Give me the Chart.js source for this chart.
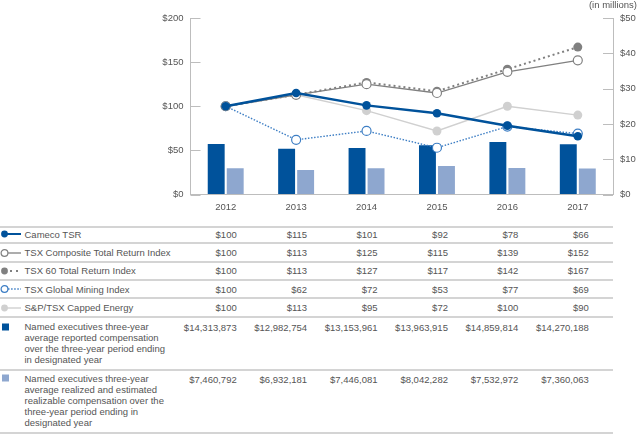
<!DOCTYPE html>
<html><head><meta charset="utf-8">
<script src="https://cdn.jsdelivr.net/npm/chart.js@4.4.0/dist/chart.umd.min.js"></script>
<style>
html,body{margin:0;padding:0;background:#fff;}
body{width:638px;height:435px;position:relative;overflow:hidden;font-family:'Liberation Sans',Arial,sans-serif;font-size:9.5px;color:#555;}
#c{position:absolute;left:0;top:0;}
.units{position:absolute;right:1px;top:-1px;line-height:11px;}
.rule{position:absolute;left:0;width:613px;height:2px;background:#d4d4d4;}
.lbl{position:absolute;left:24.5px;line-height:11px;white-space:pre;}
.val{position:absolute;line-height:11px;text-align:right;white-space:nowrap;width:120px;}
.ico{position:absolute;left:0;}
</style></head>
<body>
<canvas id="c" width="638" height="222"></canvas>
<div class="units">(in millions)</div>
<div id="tbl"></div>
<script>
// ---- data ----
const years = ['2012','2013','2014','2015','2016','2017'];
const camecoTSR = [100,115,101,92,78,66];
const tsxComposite = [100,113,125,115,139,152];
const tsx60 = [100,113,127,117,142,167];
const tsxMining = [100,62,72,53,77,69];
const cappedEnergy = [100,113,95,72,100,90];
const reportedComp = [14313873,12982754,13153961,13963915,14859814,14270188];
const realizedComp = [7460792,6932181,7446081,8042282,7532972,7360063];
const seriesLabels = [
  'Cameco TSR',
  'TSX Composite Total Return Index',
  'TSX 60 Total Return Index',
  'TSX Global Mining Index',
  'S&P/TSX Capped Energy',
  'Named executives three-year\naverage reported compensation\nover the three-year period ending\nin designated year',
  'Named executives three-year\naverage realized and estimated\nrealizable compensation over the\nthree-year period ending in\ndesignated year'
];
const leftTickLabels = ['$0','$50','$100','$150','$200'];
const rightTickLabels = ['$0','$10','$20','$30','$40','$50'];
const unitsLabel = '(in millions)';

// ---- styles ----
const DARK = '#00529b', LIGHT = '#8ea7cf', GREY = '#808080', LGREY = '#d0d0d0', MBLUE = '#3d7ec4';
const AXIS = '#bdbdbd', TXT = '#555';
const styles = [
  {type:'line', color:DARK, fill:DARK, width:2.5, dash:[], r:4.3, bw:0},
  {type:'line', color:GREY, fill:'#fff', width:1.3, dash:[], r:4.5, bw:1.2},
  {type:'line', color:GREY, fill:GREY, width:2, dash:[2,3], r:4.5, bw:0},
  {type:'line', color:MBLUE, fill:'#fff', width:1.4, dash:[1.5,1.6], r:4.5, bw:1.2},
  {type:'line', color:LGREY, fill:LGREY, width:1.4, dash:[], r:4.5, bw:0},
  {type:'bar', color:DARK},
  {type:'bar', color:LIGHT}
];
const lineSeries = [camecoTSR, tsxComposite, tsx60, tsxMining, cappedEnergy];
const barSeries = [reportedComp, realizedComp];

document.querySelector('.units').textContent = unitsLabel;

const datasets = [];
lineSeries.forEach((d,i)=>{
  const s = styles[i];
  datasets.push({
    type:'line', label: seriesLabels[i], data:d, yAxisID:'y', order:i,
    borderColor:s.color, borderWidth:s.width, borderDash:s.dash, tension:0,
    pointRadius:s.r, pointBackgroundColor:s.fill, pointBorderColor:s.color, pointBorderWidth:s.bw,
    pointHoverRadius:s.r, fill:false
  });
});
barSeries.forEach((d,j)=>{
  const s = styles[5+j];
  datasets.push({
    type:'bar', label: seriesLabels[5+j].replace(/\n/g,' '), data:d.map(v=>v/1e6), yAxisID:'y1', order:10+j,
    backgroundColor:s.color, borderWidth:0, categoryPercentage:0.54, barPercentage:0.89
  });
});

const innerTicks = {
  id:'innerTicks',
  beforeDatasetsDraw(chart){
    const ctx = chart.ctx, ca = chart.chartArea;
    ctx.save();
    ctx.strokeStyle = AXIS; ctx.lineWidth = 1;
    [['y',ca.left,1],['y1',ca.right,-1]].forEach(([id,x0,dir])=>{
      const sc = chart.scales[id];
      sc.ticks.forEach(t=>{
        const py = Math.round(sc.getPixelForValue(t.value))+0.5;
        ctx.beginPath(); ctx.moveTo(x0, py); ctx.lineTo(x0+dir*10, py); ctx.stroke();
      });
    });
    ctx.restore();
  }
};

const font = {family:"'Liberation Sans', Arial, sans-serif", size:9.5};
const chart = new Chart(document.getElementById('c'), {
  data:{labels:years, datasets},
  options:{
    responsive:false, animation:false, devicePixelRatio:1,
    layout:{padding:{top:18,left:0,right:0,bottom:0}},
    plugins:{legend:{display:false}, tooltip:{enabled:false}},
    scales:{
      x:{
        offset:true,
        grid:{display:true, drawOnChartArea:false, drawTicks:false},
        border:{color:AXIS, width:1},
        ticks:{color:TXT, font, padding:7},
        afterFit(s){ s.height = 27.5; }
      },
      y:{
        position:'left', min:0, max:200,
        grid:{display:true, drawOnChartArea:false, drawTicks:false},
        border:{color:AXIS, width:1},
        ticks:{stepSize:50, color:TXT, font, padding:7, callback:(v,i)=>leftTickLabels[i]},
        afterFit(s){ s.width = 190.5; }
      },
      y1:{
        position:'right', min:0, max:50,
        grid:{display:true, drawOnChartArea:false, drawTicks:false},
        border:{color:AXIS, width:1},
        ticks:{stepSize:10, color:TXT, font, padding:7, callback:(v,i)=>rightTickLabels[i]},
        afterFit(s){ s.width = 25; }
      }
    }
  },
  plugins:[innerTicks]
});

// ---- table below the chart ----
const tbl = document.getElementById('tbl');
const rules = [226, 242, 261, 279, 297, 316, 369, 432];
rules.forEach(y=>{ const d=document.createElement('div'); d.className='rule'; d.style.top=y+'px'; tbl.appendChild(d); });
const rowTops = [228.8, 247.2, 265.2, 283.8, 302, 321.2, 372.8];
const xs = years.map((_,i)=>chart.scales.x.getPixelForValue(i));
const fmt = v => '$' + v.toLocaleString('en-US');
const allSeries = lineSeries.concat(barSeries);

function icon(i){
  const s = styles[i];
  const ns = 'http://www.w3.org/2000/svg';
  const svg = document.createElementNS(ns,'svg');
  svg.setAttribute('width','24'); svg.setAttribute('height','12');
  if (s.type==='bar'){
    const r = document.createElementNS(ns,'rect');
    r.setAttribute('x','2'); r.setAttribute('y','2.5'); r.setAttribute('width','7'); r.setAttribute('height','7');
    r.setAttribute('fill', s.color); svg.appendChild(r);
  } else {
    const l = document.createElementNS(ns,'line');
    l.setAttribute('x1', s.bw ? '8' : '5'); l.setAttribute('x2','21'); l.setAttribute('y1','6'); l.setAttribute('y2','6');
    l.setAttribute('stroke', s.color); l.setAttribute('stroke-width', Math.min(s.width,2));
    if (i===2) { l.setAttribute('x1','10'); l.setAttribute('stroke-dasharray','2,4'); }
    if (s.dash.length && i!==2) l.setAttribute('stroke-dasharray', s.dash.join(','));
    svg.appendChild(l);
    const c = document.createElementNS(ns,'circle');
    c.setAttribute('cx','4.5'); c.setAttribute('cy','6'); c.setAttribute('r','3.4');
    c.setAttribute('fill', s.fill); c.setAttribute('stroke', s.color); c.setAttribute('stroke-width', s.bw||0);
    svg.appendChild(c);
  }
  return svg;
}

allSeries.forEach((d,i)=>{
  const top = rowTops[i];
  const ic = icon(i); ic.classList.add('ico'); ic.style.top = (top - 0.5) + 'px'; tbl.appendChild(ic);
  const lb = document.createElement('div'); lb.className='lbl'; lb.style.top = top+'px';
  lb.textContent = seriesLabels[i]; tbl.appendChild(lb);
  d.forEach((v,k)=>{
    const e = document.createElement('div'); e.className='val';
    e.style.top = (top + (i>=5 ? 1 : 0)) + 'px';
    e.style.left = (xs[k] + 11 - 120) + 'px';
    e.textContent = fmt(v); tbl.appendChild(e);
  });
});
</script>
</body></html>
